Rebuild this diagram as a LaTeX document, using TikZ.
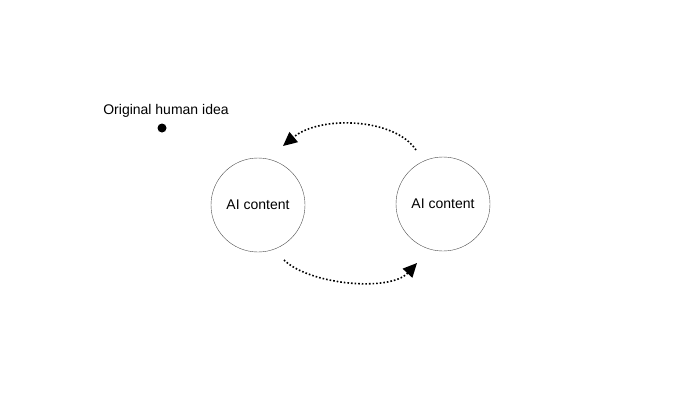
\documentclass[tikz,border=0pt]{standalone}
\usepackage{fontspec}
\setmainfont{Liberation Sans}
\usetikzlibrary{arrows.meta}

\tikzset{
    bubble/.style={draw=black!70, circle, minimum size=94pt, inner sep=0pt, font=\fontsize{14}{16}\selectfont},
    loop arrow/.style={line width=1.6pt, dotted, -{Triangle[length=14pt, width=13pt]}}
}

\begin{document}
\begin{tikzpicture}[x=1pt, y=-1pt]
    \useasboundingbox (0,0) rectangle (700,408) ;
    \node [font=\fontsize{14}{16}\selectfont] (idea) at (166,111) {Original human idea} ;
    \fill (162,128) circle (4.5) ;
    \node [bubble] (left) at (258,205) {AI content} ;
    \node [bubble] (right) at (443,204) {AI content} ;
    \coordinate (topstart) at (416,150) ;
    \coordinate (topend) at (283,146) ;
    \coordinate (botstart) at (284,260) ;
    \coordinate (botend) at (417,263) ;
    \draw [loop arrow] (topstart) .. controls (395,118) and (320,115) .. (topend) ;
    \draw [loop arrow] (botstart) .. controls (310,285) and (390,292) .. (botend) ;
\end{tikzpicture}
\end{document}
